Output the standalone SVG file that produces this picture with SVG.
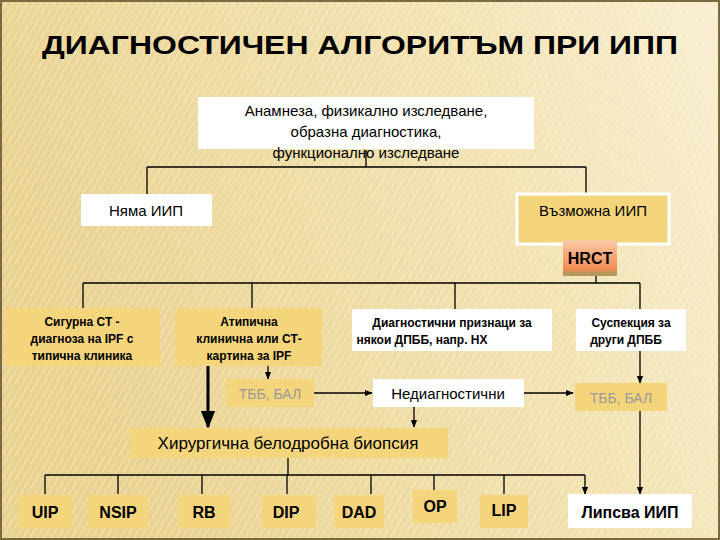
<svg xmlns="http://www.w3.org/2000/svg" width="720" height="540" viewBox="0 0 720 540">
<defs>
<linearGradient id="bg" x1="0" y1="0.3" x2="1" y2="0">
<stop offset="0" stop-color="#e9d290"/><stop offset="0.6" stop-color="#f2e2b0"/><stop offset="1" stop-color="#f8eed0"/>
</linearGradient>
<pattern id="st" width="6" height="6" patternUnits="userSpaceOnUse" patternTransform="rotate(30)">
<rect width="2" height="6" fill="#ffffff" opacity="0.18"/>
</pattern>
<linearGradient id="hr" x1="0" y1="0" x2="0" y2="1">
<stop offset="0" stop-color="#fbc9a6"/><stop offset="0.85" stop-color="#f08a4e"/><stop offset="0.86" stop-color="#b8965a"/><stop offset="1" stop-color="#b8965a"/>
</linearGradient>
<marker id="ar" viewBox="0 0 10 10" refX="9" refY="5" markerWidth="6" markerHeight="6" orient="auto"><path d="M0,1 L10,5 L0,9 z" fill="#000"/></marker>
<style>
.t{font-family:"Liberation Sans",Arial,sans-serif;fill:#000;text-anchor:middle;font-weight:bold}
.y{fill:#f4d57c}
.w{fill:#fff}
.c{stroke:#000;stroke-width:1.3;fill:none}
</style>
</defs>
<rect width="720" height="540" fill="url(#bg)"/>
<rect width="720" height="540" fill="url(#st)"/>
<rect x="1" y="1" width="718" height="538" fill="none" stroke="#7a6a40" stroke-width="2"/>
<text class="t" x="360" y="54" font-size="25" textLength="636" lengthAdjust="spacingAndGlyphs">ДИАГНОСТИЧЕН АЛГОРИТЪМ ПРИ ИПП</text>
<g id="connectors">
<path class="c" d="M366 150V167M147 167H586M147 167V195M586 167V198M586 225V245"/>
<path class="c" d="M596 275V283M83 283H640M83 283V308M252 283V308M455 283V310M640 283V310"/>
<path class="c" d="M268 366V379" marker-end="url(#ar)"/>
<path class="c" d="M314 393H372" marker-end="url(#ar)"/>
<path class="c" d="M524 393H573" marker-end="url(#ar)"/>
<path d="M208 366V427" stroke="#000" stroke-width="3" marker-end="url(#ar)"/>
<path class="c" d="M414 406V427" marker-end="url(#ar)"/>
<path class="c" d="M640 350V383" marker-end="url(#ar)"/>
<path class="c" d="M640 410V494" marker-end="url(#ar)"/>
<path class="c" d="M288 458V475M45 475H585"/>
<path class="c" d="M45 475V494M118 475V494M202 475V494M287 475V494M371 475V494M434 475V490M504 475V494M585 475V494" marker-end="url(#ar)"/>
</g>
<g id="top"><rect class="w" x="198" y="97" width="336" height="52"/>
<text class="t" x="366" y="116" font-size="15" font-weight="normal" style="font-weight:normal">Анамнеза, физикално изследване,</text>
<text class="t" x="366" y="137" font-size="15" style="font-weight:normal">образна диагностика,</text>
<text class="t" x="366" y="158" font-size="15" style="font-weight:normal">функционално изследване</text></g>
<g id="nyama"><rect class="w" x="81" y="194" width="131" height="32"/><text class="t" x="146" y="216" font-size="15" style="font-weight:normal">Няма ИИП</text></g>
<g id="vazmozhna"><rect class="y" x="517" y="194" width="152" height="50" stroke="#fff" stroke-width="3"/><text class="t" x="593" y="216" font-size="15" style="font-weight:normal">Възможна ИИП</text></g>
<g id="hrct"><rect x="563" y="240" width="54" height="36" fill="url(#hr)"/><text class="t" x="590" y="264" font-size="16">HRCT</text></g>
<g id="sigurna"><rect class="y" x="5" y="308" width="155" height="58"/>
<text class="t" x="82" y="326" font-size="12">Сигурна СТ -</text><text class="t" x="82" y="343" font-size="12">диагноза на IPF с</text><text class="t" x="82" y="360" font-size="12">типична клиника</text></g>
<g id="atipichna"><rect class="y" x="175" y="308" width="147" height="58"/>
<text class="t" x="249" y="326" font-size="12">Атипична</text><text class="t" x="249" y="343" font-size="12">клинична или СТ-</text><text class="t" x="249" y="360" font-size="12">картина за IPF</text></g>
<g id="diagn"><rect class="w" x="352" y="309" width="200" height="42"/>
<text class="t" x="452" y="327" font-size="12">Диагностични признаци за</text><text class="t" x="422" y="344" font-size="12">някои ДПББ, напр. НХ</text></g>
<g id="suspekcia"><rect class="w" x="576" y="309" width="110" height="42"/>
<text class="t" x="631" y="327" font-size="12">Суспекция за</text><text class="t" x="626" y="344" font-size="12">други ДПББ</text></g>
<g id="tbb1"><rect class="y" x="226" y="379" width="88" height="28"/><text class="t" x="270" y="399" font-size="14" style="fill:#9a9a9a;font-weight:normal">ТББ, БАЛ</text></g>
<g id="nediagn"><rect class="w" x="373" y="379" width="151" height="28"/><text class="t" x="448" y="399" font-size="15" style="font-weight:normal">Недиагностични</text></g>
<g id="tbb2"><rect class="y" x="575" y="383" width="92" height="28"/><text class="t" x="621" y="403" font-size="14" style="fill:#9a9a9a;font-weight:normal">ТББ, БАЛ</text></g>
<g id="hirurg"><rect class="y" x="130" y="428" width="318" height="30"/><text class="t" x="288" y="449" font-size="17" style="font-weight:normal">Хирургична белодробна биопсия</text></g>
<g id="uip"><rect class="y" x="18" y="495" width="54" height="33"/><text class="t" x="45" y="518" font-size="16">UIP</text></g>
<g id="nsip"><rect class="y" x="88" y="495" width="60" height="33"/><text class="t" x="118" y="518" font-size="16">NSIP</text></g>
<g id="rb"><rect class="y" x="178" y="495" width="52" height="33"/><text class="t" x="204" y="518" font-size="16">RB</text></g>
<g id="dip"><rect class="y" x="262" y="495" width="54" height="33"/><text class="t" x="286" y="518" font-size="16">DIP</text></g>
<g id="dad"><rect class="y" x="334" y="495" width="50" height="33"/><text class="t" x="359" y="518" font-size="16">DAD</text></g>
<g id="op"><rect class="y" x="413" y="490" width="44" height="33"/><text class="t" x="435" y="512" font-size="16">OP</text></g>
<g id="lip"><rect class="y" x="480" y="495" width="48" height="33"/><text class="t" x="504" y="516" font-size="16">LIP</text></g>
<g id="lipsva"><rect class="w" x="568" y="494" width="124" height="34"/><text class="t" x="630" y="518" font-size="16">Липсва ИИП</text></g>
</svg>
